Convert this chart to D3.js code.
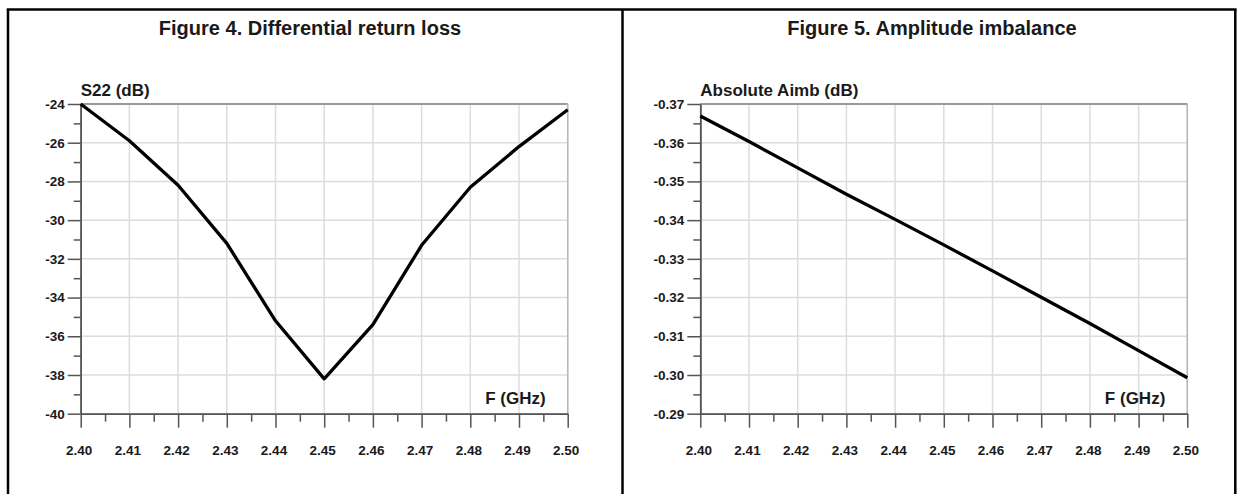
<!DOCTYPE html>
<html>
<head>
<meta charset="utf-8">
<script src="https://cdn.jsdelivr.net/npm/d3@7"></script>
<style>
  body { margin: 0; background: #fff; }
  svg text { font-family: "Liberation Sans", Arial, Helvetica, sans-serif; font-weight: bold; fill: #1a1a1a; }
</style>
</head>
<body>
<div id="chart"></div>
<script>
// Data
var freq = [2.40, 2.41, 2.42, 2.43, 2.44, 2.45, 2.46, 2.47, 2.48, 2.49, 2.50];
var s22 = [-24.0, -25.9, -28.2, -31.2, -35.2, -38.2, -35.4, -31.3, -28.3, -26.2, -24.3];
var aimb = [-0.3669, -0.3603, -0.3535, -0.3467, -0.3402, -0.3336, -0.3269, -0.3201, -0.3133, -0.3063, -0.2993];

// Tick values
var xTicks = [2.40, 2.41, 2.42, 2.43, 2.44, 2.45, 2.46, 2.47, 2.48, 2.49, 2.50];
var xMinor = [2.405, 2.415, 2.425, 2.435, 2.445, 2.455, 2.465, 2.475, 2.485, 2.495];
var s22Ticks = [-24, -26, -28, -30, -32, -34, -36, -38, -40];
var s22Minor = [-25, -27, -29, -31, -33, -35, -37, -39];
var aimbTicks = [-0.37, -0.36, -0.35, -0.34, -0.33, -0.32, -0.31, -0.30, -0.29];
var aimbMinor = [-0.365, -0.355, -0.345, -0.335, -0.325, -0.315, -0.305, -0.295];

var titles = ["Figure 4. Differential return loss", "Figure 5. Amplitude imbalance"];
var yTitles = ["S22 (dB)", "Absolute Aimb (dB)"];

var w = 1237, h = 494;
var plotTop = 104, plotBottom = 413.7, plotW = 487;

var svg = d3.select("#chart").append("svg")
  .attr("width", w)
  .attr("height", h);

// plain hyphen instead of d3's unicode minus
function fmt(spec) {
  var f = d3.format(spec);
  return function(d) { return f(d).replace("\u2212", "-"); };
}

function drawPanel(cfg) {
  var left = cfg.left, right = cfg.left + plotW;

  var xScale = d3.scaleLinear().domain([2.40, 2.50]).range([left, right]);
  var yScale = d3.scaleLinear().domain(cfg.yDomain).range([plotTop, plotBottom]);

  var g = svg.append("g");

  // title
  g.append("text")
    .attr("x", cfg.titleX)
    .attr("y", 35)
    .attr("text-anchor", "middle")
    .attr("font-size", 20)
    .text(cfg.title);

  // grid
  g.append("g")
    .selectAll("line")
    .data(xTicks)
    .enter().append("line")
    .attr("x1", function(d) { return xScale(d); })
    .attr("x2", function(d) { return xScale(d); })
    .attr("y1", plotTop).attr("y2", plotBottom)
    .attr("stroke", "#dcdcdc").attr("stroke-width", 1.5);

  g.append("g")
    .selectAll("line")
    .data(cfg.yTicks)
    .enter().append("line")
    .attr("x1", left).attr("x2", right)
    .attr("y1", function(d) { return yScale(d); })
    .attr("y2", function(d) { return yScale(d); })
    .attr("stroke", "#dcdcdc").attr("stroke-width", 1.5);

  // frame top + right
  g.append("line")
    .attr("x1", left).attr("x2", right)
    .attr("y1", plotTop).attr("y2", plotTop)
    .attr("stroke", "#9a9a9a").attr("stroke-width", 2);
  g.append("line")
    .attr("x1", right).attr("x2", right)
    .attr("y1", plotTop).attr("y2", plotBottom)
    .attr("stroke", "#b8b8b8").attr("stroke-width", 1.5);

  // y axis
  var yAxis = d3.axisLeft(yScale)
    .tickValues(cfg.yTicks)
    .tickFormat(cfg.yFormat)
    .tickSizeInner(13)
    .tickSizeOuter(0)
    .tickPadding(3);
  var ya = g.append("g")
    .attr("transform", "translate(" + left + ",0)")
    .call(yAxis);

  var yMinorAxis = d3.axisLeft(yScale)
    .tickValues(cfg.yMinor)
    .tickFormat("")
    .tickSizeInner(7)
    .tickSizeOuter(0);
  var ym = g.append("g")
    .attr("transform", "translate(" + left + ",0)")
    .call(yMinorAxis);

  // x axis
  var xAxis = d3.axisBottom(xScale)
    .tickValues(xTicks)
    .tickFormat(fmt(".2f"))
    .tickSizeInner(14)
    .tickSizeOuter(0)
    .tickPadding(18);
  var xa = g.append("g")
    .attr("transform", "translate(0," + plotBottom + ")")
    .call(xAxis);

  var xMinorAxis = d3.axisBottom(xScale)
    .tickValues(xMinor)
    .tickFormat("")
    .tickSizeInner(8)
    .tickSizeOuter(0);
  var xm = g.append("g")
    .attr("transform", "translate(0," + plotBottom + ")")
    .call(xMinorAxis);

  [ya, ym, xa, xm].forEach(function(a) {
    a.select(".domain").attr("stroke", "#555").attr("stroke-width", 1.5);
    a.selectAll(".tick line").attr("stroke", "#555").attr("stroke-width", 1.5);
    a.selectAll(".tick text")
      .attr("font-size", 13.5)
      .attr("font-family", "'Liberation Sans', Arial, sans-serif")
      .attr("font-weight", "bold")
      .attr("fill", "#1a1a1a");
  });
  xa.selectAll(".tick text").attr("dx", -2);

  // axis titles
  g.append("text")
    .attr("x", left)
    .attr("y", 96)
    .attr("font-size", 17)
    .text(cfg.yTitle);

  g.append("text")
    .attr("x", right - 22)
    .attr("y", 404)
    .attr("text-anchor", "end")
    .attr("font-size", 17)
    .text("F (GHz)");

  // curve
  var line = d3.line()
    .x(function(d, i) { return xScale(freq[i]); })
    .y(function(d) { return yScale(d); });

  g.append("path")
    .datum(cfg.values)
    .attr("d", line)
    .attr("fill", "none")
    .attr("stroke", "#000")
    .attr("stroke-width", 3.3)
    .attr("stroke-linejoin", "round");
}

drawPanel({
  left: 80.7, titleX: 310, title: titles[0], yTitle: yTitles[0],
  yDomain: [-24, -40], yTicks: s22Ticks, yMinor: s22Minor,
  yFormat: fmt("d"), values: s22
});

drawPanel({
  left: 700.3, titleX: 932, title: titles[1], yTitle: yTitles[1],
  yDomain: [-0.37, -0.29], yTicks: aimbTicks, yMinor: aimbMinor,
  yFormat: fmt(".2f"), values: aimb
});

// outer border (top, left, divider, right)
var borderX = [8, 622.5, 1235.3];
svg.append("line")
  .attr("x1", borderX[0] - 1.25).attr("x2", borderX[2] + 1.25)
  .attr("y1", 9.5).attr("y2", 9.5)
  .attr("stroke", "#000").attr("stroke-width", 2.5);
svg.selectAll("line.border")
  .data(borderX)
  .enter().append("line")
  .attr("class", "border")
  .attr("x1", function(d) { return d; })
  .attr("x2", function(d) { return d; })
  .attr("y1", 9.5).attr("y2", h)
  .attr("stroke", "#000").attr("stroke-width", 2.5);
</script>
</body>
</html>
